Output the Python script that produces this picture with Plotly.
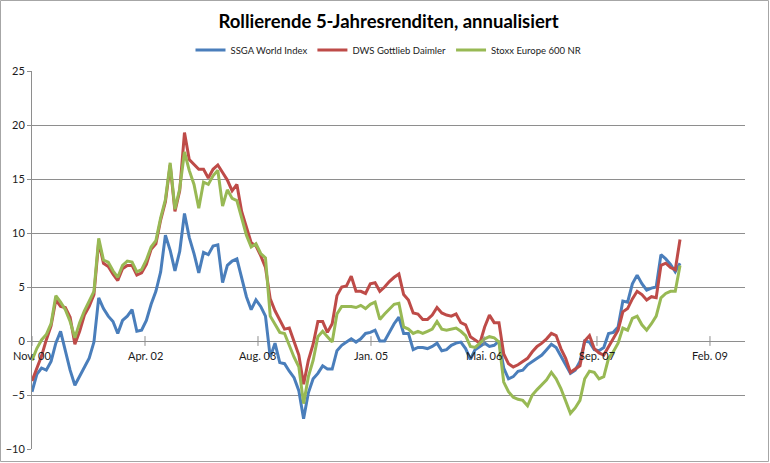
import pandas as pd
import plotly.graph_objects as go

TITLE = "Rollierende 5-Jahresrenditen, annualisiert"
SERIES_NAMES = ["SSGA World Index", "DWS Gottlieb Daimler", "Stoxx Europe 600 NR"]
START_DATE = "2000-11-30"
STEP = "21D"
TICK_STEP = "498D"
TICK_LABELS = ["Nov. 00", "Apr. 02", "Aug. 03", "Jan. 05", "Mai. 06", "Sep. 07", "Feb. 09"]
Y_TICKS = [-10, -5, 0, 5, 10, 15, 20, 25]

ssga = [
    -4.7, -3.1, -2.5, -2.7, -1.9, -0.2, 0.9, -1.0, -2.7, -4.1,
    -3.3, -2.5, -1.6, -0.1, 4.0, 3.0, 2.3, 1.8, 0.7, 1.9,
    2.3, 2.9, 0.9, 1.0, 1.9, 3.4, 4.6, 6.4, 9.8, 8.4,
    6.5, 8.3, 11.8, 9.6, 8.1, 6.3, 8.2, 8.0, 8.8, 8.9,
    5.4, 7.0, 7.4, 7.6, 5.8, 4.1, 2.9, 3.8, 3.2, 2.3,
    -1.5, -0.2, -2.0, -2.1, -2.8, -3.4, -4.6, -7.2, -4.8, -3.5,
    -3.0, -2.3, -2.6, -2.6, -0.9, -0.4, -0.1, 0.2, -0.1, 0.2,
    0.7, 0.8, 1.0, 0.0, 0.0, 0.8, 1.6, 2.2, 0.7, 0.7,
    -0.8, -0.6, -0.6, -0.7, -0.5, -0.2, -0.9, -0.8, -0.4, -0.2,
    -0.1, -0.7, -1.7, -0.8, -0.5, -0.2, -0.5, -0.4, 0.0, -2.5,
    -3.5, -3.3, -2.8, -2.7, -2.2, -1.9, -1.6, -1.3, -0.8, -0.3,
    -0.6, -1.4, -2.2, -3.0, -2.7, -1.9, 0.0, -0.1, -0.8, -0.9,
    -0.6, 0.7, 0.8, 1.3, 3.7, 3.6, 5.3, 6.1, 5.3, 4.7,
    4.9, 5.0, 8.0, 7.6, 7.1, 6.4, 7.2,
]

dws = [
    -3.7, -2.6, -1.4, 0.1, 1.4, 3.8, 3.2, 3.1, 2.2, -0.3,
    0.9, 2.4, 3.2, 4.3, 9.2, 7.2, 6.9, 6.2, 5.6, 6.7,
    7.0, 7.0, 6.1, 6.3, 7.1, 8.5, 9.0, 11.2, 12.9, 16.3,
    12.0, 13.9, 19.3, 16.8, 16.3, 15.9, 15.9, 15.1, 15.9, 16.3,
    15.6, 14.9, 13.9, 14.5, 12.0, 10.6, 9.1, 8.8, 7.9, 6.8,
    3.9, 2.8, 2.0, 1.1, 1.2, 0.0, -1.3, -4.0, -1.8, -0.3,
    1.8, 1.8, 0.8, 1.6, 4.2, 5.0, 5.1, 6.0, 4.6, 4.6,
    4.4, 5.3, 5.4, 4.6, 5.0, 5.5, 5.9, 6.2, 4.3, 3.8,
    2.6, 2.5, 2.0, 2.0, 2.4, 3.1, 2.6, 2.4, 2.3, 2.5,
    1.7, 1.5, 0.4, 0.1, -0.2, 1.3, 2.4, 1.7, 1.7, -1.2,
    -2.1, -2.4, -2.2, -1.9, -1.6, -1.0, -0.5, -0.2, 0.2, 0.7,
    0.5, -0.7, -1.6, -2.9, -2.6, -2.3, 0.0, 0.5, -0.7, -1.1,
    -1.3, -0.5, 0.2, 1.0, 2.7, 3.0, 3.9, 4.6, 4.3, 3.8,
    4.1, 4.0, 7.0, 7.2, 6.8, 6.6, 9.4,
]

stoxx = [
    -1.8, -0.7, 0.1, 0.6, 1.6, 4.2, 3.6, 2.9, 1.8, 0.3,
    1.7, 2.8, 3.7, 4.6, 9.5, 7.5, 7.3, 6.5, 5.9, 7.0,
    7.4, 7.3, 6.4, 6.6, 7.5, 8.7, 9.3, 11.4, 13.1, 16.5,
    12.2, 14.1, 17.5, 15.8, 14.5, 12.3, 14.7, 14.5, 15.3, 15.8,
    12.5, 14.0, 13.2, 13.0, 11.4, 9.8, 8.7, 9.0, 8.1, 7.7,
    2.3, 1.6, 0.8, 0.7, -0.4, -1.5, -2.4, -5.8, -3.3, -1.8,
    0.4, 0.9, 0.4, -0.1, 2.5, 3.2, 3.2, 3.2, 3.1, 3.3,
    3.0, 3.4, 3.6, 2.0, 2.5, 3.0, 3.4, 3.5, 1.3, 1.1,
    0.7, 0.9, 0.7, 0.9, 1.1, 1.8, 1.1, 1.0, 1.1, 1.2,
    0.9, 0.5, -0.5, -0.6, -0.2, 0.2, 0.4, 0.3, -0.1, -3.8,
    -4.7, -5.2, -5.4, -5.5, -6.0, -5.0, -4.5, -4.0, -3.6, -2.9,
    -3.5, -4.4, -5.6, -6.7, -6.2, -5.5, -3.5, -2.8, -2.9, -3.5,
    -3.3, -1.6, -1.0, -0.2, 1.2, 1.0, 2.1, 2.3, 1.5, 1.0,
    1.6, 2.3, 4.0, 4.4, 4.6, 4.6, 7.0,
]

COLORS = ["#4A7EBB", "#BE4B48", "#98B954"]
FONT = "Lato, 'Open Sans', sans-serif"
GRID = "#8E8E8E"

dates = pd.date_range(START_DATE, periods=len(ssga), freq=STEP)
tick_dates = pd.date_range(START_DATE, periods=len(TICK_LABELS), freq=TICK_STEP)
x_end = tick_dates[-1] + (tick_dates[1] - tick_dates[0]) * 0.31

fig = go.Figure()
for name, vals, col in zip(SERIES_NAMES, [ssga, dws, stoxx], COLORS):
    fig.add_trace(go.Scatter(x=dates, y=vals, name=name, mode="lines",
                             line=dict(color=col, width=3), hoverinfo="skip"))

# tick marks on the category axis (which crosses at zero)
fig.add_trace(go.Scatter(x=tick_dates, y=[0] * len(tick_dates), mode="markers",
                         marker=dict(symbol="line-ns", size=7,
                                     line=dict(color=GRID, width=1)),
                         showlegend=False, hoverinfo="skip"))

for d, lab in zip(tick_dates, TICK_LABELS):
    fig.add_annotation(x=d, y=0, xref="x", yref="y", text=lab, showarrow=False,
                       yshift=-14, font=dict(family=FONT, size=11, color="#1a1a1a"))

L, R, T, B = 32, 25, 71, 14
W, H = 770, 463
pw, ph = W - L - R, H - T - B

fig.add_shape(type="rect", xref="paper", yref="paper",
              x0=(0.5 - L) / pw, x1=(W - 1.5 - L) / pw,
              y0=-(B - 1.5) / ph, y1=1 + (T - 0.5) / ph,
              line=dict(color="#A6A6A6", width=1), fillcolor="rgba(0,0,0,0)", layer="below")

fig.update_layout(
    width=W, height=H,
    margin=dict(l=L, r=R, t=T, b=B, pad=0, autoexpand=False),
    paper_bgcolor="white", plot_bgcolor="white",
    title=dict(text="<b>" + TITLE + "</b>", x=0.5, xref="paper", xanchor="center",
               yref="container", y=1 - 22 / H, yanchor="middle",
               font=dict(family=FONT, size=18.5, color="#000000")),
    legend=dict(orientation="h", x=0.5, xanchor="center",
                yref="container", y=1 - 50 / H, yanchor="middle",
                font=dict(family=FONT, size=9.5, color="#1a1a1a"),
                itemwidth=30, tracegroupgap=0, bgcolor="rgba(0,0,0,0)"),
    showlegend=True,
    xaxis=dict(type="date", range=[tick_dates[0], x_end], showgrid=False,
               showticklabels=False, zeroline=False, showline=False, ticks="",
               automargin=False),
    yaxis=dict(range=[-10, 25], tickvals=Y_TICKS, showgrid=True, gridcolor=GRID,
               gridwidth=1, zeroline=True, zerolinecolor=GRID, zerolinewidth=1,
               showline=True, linecolor=GRID, linewidth=1, ticks="outside",
               ticklen=4, tickcolor=GRID, automargin=False,
               tickfont=dict(family=FONT, size=11, color="#1a1a1a")),
)

fig.write_html("out.html", config={"displayModeBar": False},
               post_script="document.body.style.margin='0';document.body.style.overflow='hidden';")
